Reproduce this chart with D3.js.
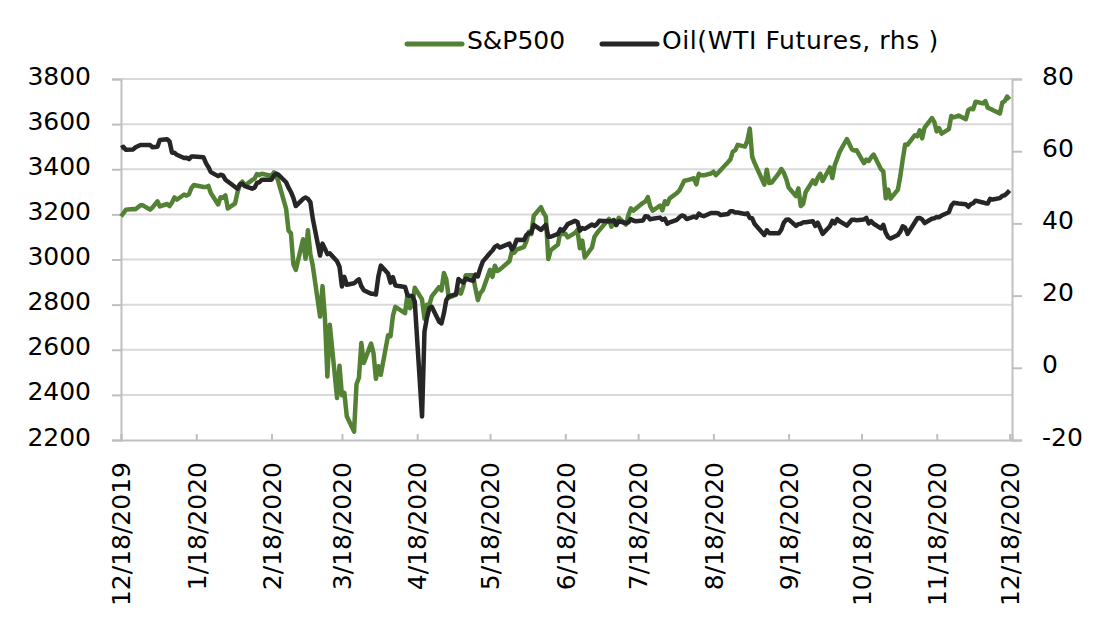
<!DOCTYPE html>
<html>
<head>
<meta charset="utf-8">
<script src="https://cdn.jsdelivr.net/npm/d3@7"></script>
<style>
  body { margin: 0; background: #fff; }
  text { font-family: "DejaVu Sans", Verdana, sans-serif; fill: #000; }
</style>
</head>
<body>
<script>
// trading days, one line per month
const dates = [
  "2019-12-18","2019-12-19","2019-12-20","2019-12-23","2019-12-24","2019-12-26","2019-12-27","2019-12-30","2019-12-31",
  "2020-01-02","2020-01-03","2020-01-06","2020-01-07","2020-01-08","2020-01-09","2020-01-10","2020-01-13","2020-01-14","2020-01-15","2020-01-16","2020-01-17","2020-01-21","2020-01-22","2020-01-23","2020-01-24","2020-01-27","2020-01-28","2020-01-29","2020-01-30","2020-01-31",
  "2020-02-03","2020-02-04","2020-02-05","2020-02-06","2020-02-07","2020-02-10","2020-02-11","2020-02-12","2020-02-13","2020-02-14","2020-02-18","2020-02-19","2020-02-20","2020-02-21","2020-02-24","2020-02-25","2020-02-26","2020-02-27","2020-02-28",
  "2020-03-02","2020-03-03","2020-03-04","2020-03-05","2020-03-06","2020-03-09","2020-03-10","2020-03-11","2020-03-12","2020-03-13","2020-03-16","2020-03-17","2020-03-18","2020-03-19","2020-03-20","2020-03-23","2020-03-24","2020-03-25","2020-03-26","2020-03-27","2020-03-30","2020-03-31",
  "2020-04-01","2020-04-02","2020-04-03","2020-04-06","2020-04-07","2020-04-08","2020-04-09","2020-04-13","2020-04-14","2020-04-15","2020-04-16","2020-04-17","2020-04-20","2020-04-21","2020-04-22","2020-04-23","2020-04-24","2020-04-27","2020-04-28","2020-04-29","2020-04-30",
  "2020-05-01","2020-05-04","2020-05-05","2020-05-06","2020-05-07","2020-05-08","2020-05-11","2020-05-12","2020-05-13","2020-05-14","2020-05-15","2020-05-18","2020-05-19","2020-05-20","2020-05-21","2020-05-22","2020-05-26","2020-05-27","2020-05-28","2020-05-29",
  "2020-06-01","2020-06-02","2020-06-03","2020-06-04","2020-06-05","2020-06-08","2020-06-09","2020-06-10","2020-06-11","2020-06-12","2020-06-15","2020-06-16","2020-06-17","2020-06-18","2020-06-19","2020-06-22","2020-06-23","2020-06-24","2020-06-25","2020-06-26","2020-06-29","2020-06-30",
  "2020-07-01","2020-07-02","2020-07-06","2020-07-07","2020-07-08","2020-07-09","2020-07-10","2020-07-13","2020-07-14","2020-07-15","2020-07-16","2020-07-17","2020-07-20","2020-07-21","2020-07-22","2020-07-23","2020-07-24","2020-07-27","2020-07-28","2020-07-29","2020-07-30","2020-07-31",
  "2020-08-03","2020-08-04","2020-08-05","2020-08-06","2020-08-07","2020-08-10","2020-08-11","2020-08-12","2020-08-13","2020-08-14","2020-08-17","2020-08-18","2020-08-19","2020-08-20","2020-08-21","2020-08-24","2020-08-25","2020-08-26","2020-08-27","2020-08-28","2020-08-31",
  "2020-09-01","2020-09-02","2020-09-03","2020-09-04","2020-09-08","2020-09-09","2020-09-10","2020-09-11","2020-09-14","2020-09-15","2020-09-16","2020-09-17","2020-09-18","2020-09-21","2020-09-22","2020-09-23","2020-09-24","2020-09-25","2020-09-28","2020-09-29","2020-09-30",
  "2020-10-01","2020-10-02","2020-10-05","2020-10-06","2020-10-07","2020-10-08","2020-10-09","2020-10-12","2020-10-13","2020-10-14","2020-10-15","2020-10-16","2020-10-19","2020-10-20","2020-10-21","2020-10-22","2020-10-23","2020-10-26","2020-10-27","2020-10-28","2020-10-29","2020-10-30",
  "2020-11-02","2020-11-03","2020-11-04","2020-11-05","2020-11-06","2020-11-09","2020-11-10","2020-11-11","2020-11-12","2020-11-13","2020-11-16","2020-11-17","2020-11-18","2020-11-19","2020-11-20","2020-11-23","2020-11-24","2020-11-25","2020-11-27","2020-11-30",
  "2020-12-01","2020-12-02","2020-12-03","2020-12-04","2020-12-07","2020-12-08","2020-12-09","2020-12-10","2020-12-11","2020-12-14","2020-12-15","2020-12-16","2020-12-17","2020-12-18"
];

const spx = [
  3191,3205,3221,3224,3223,3240,3240,3221,3231,
  3258,3235,3246,3237,3253,3275,3265,3288,3283,3289,3317,3330,3321,3321,3326,3295,3244,3276,3273,3284,3226,
  3249,3298,3334,3345,3328,3352,3358,3379,3374,3380,3370,3386,3373,3338,3226,3128,3116,2979,2954,
  3090,3003,3130,3024,2972,2747,2882,2741,2481,2711,2386,2529,2398,2409,2305,2237,2447,2476,2630,2541,2627,2585,
  2471,2527,2489,2664,2660,2750,2790,2762,2846,2784,2800,2875,2823,2737,2799,2798,2837,2878,2863,2940,2912,
  2831,2843,2868,2849,2882,2930,2930,2870,2820,2852,2864,2954,2923,2972,2949,2955,2992,3036,3030,3044,
  3056,3081,3123,3112,3194,3232,3207,3190,3002,3041,3067,3125,3113,3115,3098,3118,3131,3050,3084,3009,3053,3100,
  3116,3130,3180,3145,3169,3152,3185,3155,3197,3227,3216,3225,3251,3257,3277,3236,3216,3239,3218,3258,3246,3271,
  3295,3306,3327,3349,3351,3360,3333,3380,3373,3373,3381,3389,3374,3385,3397,3431,3443,3478,3484,3508,3500,
  3527,3580,3455,3427,3332,3398,3339,3341,3383,3401,3385,3357,3319,3281,3315,3237,3247,3298,3351,3335,3363,
  3380,3348,3408,3361,3419,3447,3477,3534,3512,3489,3483,3484,3427,3443,3436,3453,3465,3401,3391,3271,3310,3270,
  3310,3370,3444,3510,3509,3551,3546,3573,3537,3585,3627,3610,3568,3582,3558,3578,3636,3630,3638,3622,
  3662,3669,3666,3699,3692,3702,3673,3668,3663,3647,3695,3702,3722,3709
];

const wti = [
  60.9,61.2,60.4,60.5,61.1,61.7,61.7,61.7,61.1,
  61.2,63.1,63.3,62.7,59.6,59.6,59.0,58.1,58.2,57.8,58.5,58.5,58.3,56.7,55.6,54.2,53.1,53.5,53.3,52.1,51.6,
  50.1,49.6,50.8,51.0,50.3,49.6,49.9,51.2,51.4,52.1,52.1,53.3,53.8,53.4,51.4,49.9,48.7,47.1,44.8,
  46.8,47.2,46.8,45.9,41.3,31.1,34.4,33.0,31.5,31.7,29.5,28.0,22.5,25.2,23.0,23.4,24.0,24.5,22.6,21.5,20.5,20.5,
  20.3,25.3,28.3,26.1,23.6,25.1,22.8,22.4,20.1,19.9,19.9,18.3,-13.5,10.0,13.8,16.5,16.9,12.8,12.3,15.1,18.8,
  19.8,20.4,24.6,24.0,23.6,24.7,24.1,25.8,25.3,27.6,29.4,31.8,32.5,33.5,33.9,33.3,34.4,32.8,33.7,35.5,
  35.4,36.8,37.3,37.4,39.6,38.2,38.9,39.6,36.3,36.3,37.1,38.4,38.0,38.8,39.8,40.7,40.4,38.0,38.7,38.5,39.7,39.3,
  39.8,40.7,40.6,40.6,40.9,39.6,40.6,40.1,40.3,41.2,40.8,40.6,40.8,42.0,41.9,41.1,41.3,41.6,41.0,41.3,39.9,40.3,
  41.0,41.7,42.2,42.0,41.2,41.9,41.6,42.7,42.2,42.0,42.9,42.9,42.9,42.8,42.3,42.6,43.4,43.4,43.0,43.0,42.6,
  42.8,41.5,41.4,39.8,36.8,38.1,37.3,37.3,37.3,38.3,40.2,41.0,41.1,39.3,39.8,39.9,40.3,40.3,40.6,39.3,40.2,
  38.7,37.1,39.2,40.7,40.0,41.2,40.6,39.4,40.2,41.0,41.0,40.9,41.1,41.5,40.0,40.6,39.9,38.6,39.6,37.4,36.2,35.8,
  36.8,37.7,39.2,38.8,37.1,40.3,41.4,41.5,41.1,40.1,41.3,41.4,41.8,41.7,42.2,43.1,44.9,45.7,45.5,45.3,
  44.6,45.3,45.6,46.3,45.8,45.6,45.5,46.8,46.6,47.0,47.6,47.8,48.4,49.1
];

const leftTicks = [2200, 2400, 2600, 2800, 3000, 3200, 3400, 3600, 3800];
const rightTicks = [-20, 0, 20, 40, 60, 80];
const dateTicks = ["2019-12-18","2020-01-18","2020-02-18","2020-03-18","2020-04-18","2020-05-18",
  "2020-06-18","2020-07-18","2020-08-18","2020-09-18","2020-10-18","2020-11-18","2020-12-18"];

const seriesNames = ["S&P500", "Oil(WTI Futures, rhs )"];
const colors = ["#548235", "#262626"];

const width = 1096, height = 643;
const margin = { top: 79, right: 84, bottom: 203, left: 121 };

const parse = d3.utcParse("%Y-%m-%d");
const fmt = d3.utcFormat("%-m/%-d/%Y");
const days = dates.map(parse);

const svg = d3.select("body").append("svg")
  .attr("width", width)
  .attr("height", height)
  .style("font-size", "25px");

const x = d3.scaleUtc()
  .domain([parse("2019-12-18"), parse("2020-12-19")])
  .range([margin.left, width - margin.right]);
const yL = d3.scaleLinear().domain([2200, 3800]).range([height - margin.bottom, margin.top]);
const yR = d3.scaleLinear().domain([-20, 80]).range([height - margin.bottom, margin.top]);

const x0 = margin.left, x1 = width - margin.right, yB = height - margin.bottom;

// gridlines
svg.append("g")
  .selectAll("line")
  .data(leftTicks.slice(1))
  .join("line")
  .attr("x1", x0).attr("x2", x1)
  .attr("y1", d => yL(d)).attr("y2", d => yL(d))
  .attr("stroke", "#d9d9d9")
  .attr("stroke-width", 2);

// left axis
const gL = svg.append("g").attr("transform", `translate(${x0},0)`)
  .call(d3.axisLeft(yL).tickValues(leftTicks).tickSize(9).tickPadding(21).tickFormat(d3.format("d")));
// right axis
const gR = svg.append("g").attr("transform", `translate(${x1},0)`)
  .call(d3.axisRight(yR).tickValues(rightTicks).tickSize(10).tickPadding(20)
    .tickFormat(d => d < 0 ? "-" + Math.abs(d) : d));
// bottom axis, ticks point inward
const gB = svg.append("g").attr("transform", `translate(0,${yB})`)
  .call(d3.axisBottom(x).tickValues(dateTicks.map(parse)).tickSize(-6).tickFormat(fmt));

[gL, gR, gB].forEach(g => {
  g.attr("font-size", null).attr("font-family", null);
  g.select(".domain").attr("stroke", "#bfbfbf").attr("stroke-width", 2);
  g.selectAll(".tick line").attr("stroke", "#bfbfbf").attr("stroke-width", 2);
  g.selectAll(".tick text").attr("fill", "#000");
});
gL.selectAll(".tick text").attr("dy", "0.2em");
gR.selectAll(".tick text").attr("dy", "0.2em");
gB.selectAll(".tick text")
  .attr("text-anchor", "end")
  .attr("transform", "translate(0,22) rotate(-90)")
  .attr("x", 0).attr("y", 0)
  .attr("dy", "0.35em");

// lines
const lineL = d3.line().x((d, i) => x(days[i])).y(d => yL(d));
const lineR = d3.line().x((d, i) => x(days[i])).y(d => yR(d));

svg.append("path").datum(spx)
  .attr("d", lineL)
  .attr("fill", "none")
  .attr("stroke", colors[0])
  .attr("stroke-width", 4.5)
  .attr("stroke-linejoin", "round");

svg.append("path").datum(wti)
  .attr("d", lineR)
  .attr("fill", "none")
  .attr("stroke", colors[1])
  .attr("stroke-width", 4.5)
  .attr("stroke-linejoin", "round");

// legend
const legendX = [407, 602];
const legend = svg.append("g").selectAll("g")
  .data(seriesNames)
  .join("g")
  .attr("transform", (d, i) => `translate(${legendX[i]},44)`);
legend.append("line")
  .attr("x1", 0).attr("x2", 55)
  .attr("stroke", (d, i) => colors[i])
  .attr("stroke-width", 5)
  .attr("stroke-linecap", "round");
legend.append("text")
  .attr("x", 60).attr("y", 5)
  .attr("letter-spacing", (d, i) => i ? "0.6px" : null)
  .text(d => d);
</script>
</body>
</html>
